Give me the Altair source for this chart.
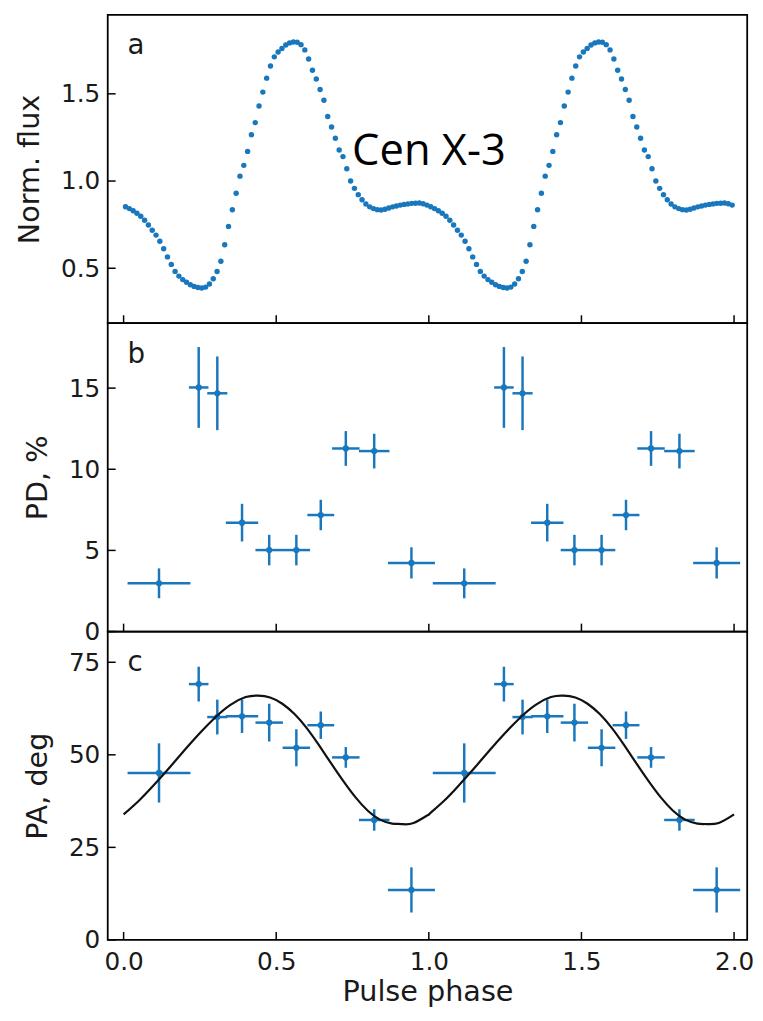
import altair as alt
import numpy as np
import pandas as pd

# ---------------- data ----------------
N_BINS = 80  # phase bins per cycle in the pulse profile
flux_cycle = [
    0.853, 0.842, 0.830, 0.815, 0.798, 0.775, 0.748, 0.718, 0.690, 0.655,
    0.612, 0.565, 0.522, 0.482, 0.455, 0.435, 0.420, 0.405, 0.396, 0.390,
    0.387, 0.392, 0.410, 0.440, 0.481, 0.540, 0.635, 0.740, 0.835, 0.930,
    1.028, 1.090, 1.170, 1.265, 1.335, 1.430, 1.510, 1.590, 1.660, 1.712,
    1.740, 1.760, 1.780, 1.792, 1.797, 1.796, 1.782, 1.752, 1.700, 1.635,
    1.585, 1.525, 1.463, 1.370, 1.310, 1.245, 1.178, 1.140, 1.070, 1.000,
    0.958, 0.922, 0.893, 0.868, 0.852, 0.842, 0.836, 0.834, 0.838, 0.845,
    0.852, 0.857, 0.862, 0.866, 0.869, 0.872, 0.873, 0.874, 0.870, 0.862,
]

pol_phase = [0.116, 0.246, 0.307, 0.388, 0.477, 0.566, 0.646, 0.728, 0.821, 0.943]
pol_halfwidth = [0.103, 0.032, 0.033, 0.053, 0.045, 0.045, 0.044, 0.045, 0.050, 0.077]
pd_value = [2.97, 15.04, 14.68, 6.71, 5.02, 5.02, 7.18, 11.28, 11.12, 4.23]
pd_err = [0.92, 2.49, 2.27, 1.16, 0.94, 0.94, 0.94, 1.07, 1.07, 0.96]
pa_value = [45.1, 69.1, 60.2, 60.4, 58.7, 51.9, 58.0, 49.3, 32.4, 13.5]
pa_err = [8.0, 4.7, 4.7, 4.5, 5.1, 5.0, 3.7, 2.8, 2.9, 6.1]

model_phase = [0.00, 0.05, 0.10, 0.15, 0.20, 0.25, 0.30, 0.35, 0.40, 0.44,
               0.48, 0.52, 0.56, 0.60, 0.64, 0.68, 0.72, 0.76, 0.80, 0.84,
               0.88, 0.91, 0.95, 1.00]
model_pa = [33.9, 37.6, 41.9, 46.5, 51.3, 55.9, 60.1, 63.5, 65.6, 66.0,
            65.5, 63.8, 61.0, 57.2, 52.6, 47.7, 42.9, 38.5, 34.9, 32.5,
            31.4, 31.3, 31.6, 33.9]

cycles = [0.0, 1.0]
x_ticks = [0.0, 0.5, 1.0, 1.5, 2.0]
flux_ticks = [0.5, 1.0, 1.5]
pd_ticks = [0, 5, 10, 15]
pa_ticks = [0, 25, 50, 75]

# ---------------- tables ----------------
bin_centers = (np.arange(N_BINS) + 0.5) / N_BINS
flux_df = pd.DataFrame({
    "phase": np.concatenate([bin_centers + c for c in cycles]),
    "flux": flux_cycle * len(cycles),
})

rows = []
for c in cycles:
    for i in range(len(pol_phase)):
        rows.append(dict(
            ph=pol_phase[i] + c,
            lo=pol_phase[i] - pol_halfwidth[i] + c,
            hi=pol_phase[i] + pol_halfwidth[i] + c,
            pdv=pd_value[i], pdlo=pd_value[i] - pd_err[i], pdhi=pd_value[i] + pd_err[i],
            pav=pa_value[i], palo=pa_value[i] - pa_err[i], pahi=pa_value[i] + pa_err[i],
        ))
pol_df = pd.DataFrame(rows)

model_df = pd.DataFrame({
    "phase": np.concatenate([np.array(model_phase) + c for c in cycles]),
    "pa": model_pa * len(cycles),
})

# ---------------- styling ----------------
BLUE = "#1877bd"
W, H = 647, 312
TICK = 8
FONT = "DejaVu Sans"
xs = alt.Scale(domain=[-0.052, 2.043], nice=False, zero=False)

x_axis = alt.Axis(values=x_ticks, format=".1f", title="Pulse phase", labelPadding=10,
                  titlePadding=3, labelFlush=False, labelOverlap=False)


def X(field, axis=None):
    if axis is None:
        return alt.X(field, type="quantitative", scale=xs, axis=None)
    return alt.X(field, type="quantitative", scale=xs, axis=axis)


def make_y(domain, values, fmt, title):
    scale = alt.Scale(domain=domain, nice=False, zero=False)
    axis = alt.Axis(values=values, format=fmt, title=title, labelPadding=8,
                    titlePadding=16, labelOverlap=False)

    def Y(field):
        return alt.Y(field, type="quantitative", scale=scale, axis=axis)
    return Y


def panel(layers_main, Y, yticks, letter, xaxis=None):
    ltick = alt.Chart(pd.DataFrame({"v": yticks})).mark_rule(
        color="black", strokeWidth=1.5).encode(
        y=Y("v"), x=alt.value(0), x2=alt.value(TICK))
    btick = alt.Chart(pd.DataFrame({"p": x_ticks})).mark_rule(
        color="black", strokeWidth=1.5).encode(
        x=X("p", xaxis), y=alt.value(H), y2=alt.value(H - TICK))
    lab = alt.Chart(pd.DataFrame({"t": [letter]})).mark_text(
        font=FONT, fontSize=28, color="#1a1a1a", align="left", baseline="alphabetic").encode(
        text="t:N", x=alt.value(20), y=alt.value(40))
    return alt.layer(*layers_main, ltick, btick, lab).properties(width=W, height=H)


# panel a
Ya = make_y([0.185, 1.953], flux_ticks, ".1f", "Norm. flux")
pts_a = alt.Chart(flux_df).mark_circle(size=30, color=BLUE, opacity=1).encode(
    x=X("phase"), y=Ya("flux"))
name = alt.Chart(pd.DataFrame({"t": ["Cen X-3"]})).mark_text(
    font="Open Sans", fontSize=44, color="black", align="center", baseline="alphabetic").encode(
    text="t:N", x=alt.value(325), y=alt.value(152))
pa_ = panel([pts_a, name], Ya, flux_ticks, "a")

# panel b
Yb = make_y([0, 19.0], pd_ticks, "d", "PD, %")
b_h = alt.Chart(pol_df).mark_rule(color=BLUE, strokeWidth=2.5).encode(
    x=X("lo"), x2="hi", y=Yb("pdv"))
b_v = alt.Chart(pol_df).mark_rule(color=BLUE, strokeWidth=2.5).encode(
    x=X("ph"), y=Yb("pdlo"), y2="pdhi")
b_p = alt.Chart(pol_df).mark_circle(size=40, color=BLUE, opacity=1).encode(
    x=X("ph"), y=Yb("pdv"))
pb_ = panel([b_h, b_v, b_p], Yb, pd_ticks, "b")

# panel c
Yc = make_y([0, 83.3], pa_ticks, "d", "PA, deg")
c_h = alt.Chart(pol_df).mark_rule(color=BLUE, strokeWidth=2.5).encode(
    x=X("lo", x_axis), x2="hi", y=Yc("pav"))
c_v = alt.Chart(pol_df).mark_rule(color=BLUE, strokeWidth=2.5).encode(
    x=X("ph", x_axis), y=Yc("palo"), y2="pahi")
c_p = alt.Chart(pol_df).mark_circle(size=40, color=BLUE, opacity=1).encode(
    x=X("ph", x_axis), y=Yc("pav"))
c_m = alt.Chart(model_df).mark_line(color="#111111", strokeWidth=2.2, interpolate="natural").encode(
    x=X("phase", x_axis), y=Yc("pa"))
pc_ = panel([c_h, c_v, c_p, c_m], Yc, pa_ticks, "c", xaxis=x_axis)

chart = alt.vconcat(pa_, pb_, pc_, spacing=0, bounds="flush").properties(
    padding={"left": 15, "top": 8, "right": 8, "bottom": 4}
).configure_view(
    stroke="black", strokeWidth=1.8
).configure_axis(
    labelFont=FONT, labelFontSize=25, labelColor="#1a1a1a",
    titleFont=FONT, titleFontSize=29, titleFontWeight="normal", titleColor="#1a1a1a",
    ticks=False, tickSize=0, domain=False, grid=False,
)

chart.save("out.html", embed_options={"renderer": "svg", "actions": False})
